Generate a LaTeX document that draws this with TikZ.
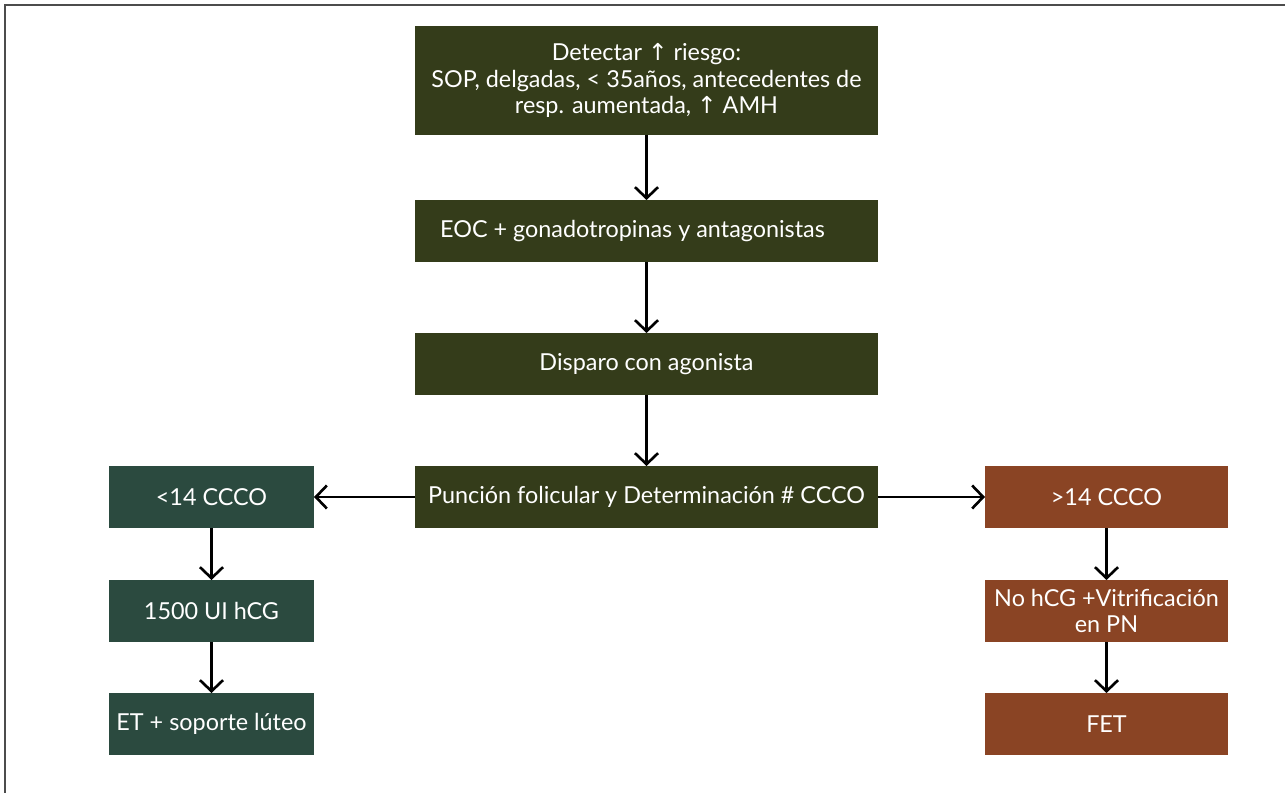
\documentclass[tikz,border=0pt]{standalone}
\usepackage{fontspec}
\setmainfont{Lato}
\newfontfamily\symfont{DejaVu Sans}
\usepackage{tikz}
\usetikzlibrary{positioning}
\usetikzlibrary{arrows.meta}
\definecolor{oliv}{HTML}{343C1A}
\definecolor{tanne}{HTML}{2B4A3F}
\definecolor{rost}{HTML}{8A4424}
\newcommand{\hoch}{{\symfont ↑}}

\begin{document}
\begin{tikzpicture} [line width=1.5pt, >={Straight Barb[length=2.2mm,width=4.6mm]},
        main/.style = {fill=oliv, text=white, align=center, outer sep=0pt, inner sep=2pt,
            minimum width=9.26cm, minimum height=1.24cm, font=\fontsize{13.3}{15.2}\selectfont},
        links/.style = {main, fill=tanne, minimum width=4.1cm},
        rechts/.style = {main, fill=rost, minimum width=4.86cm}]
        \useasboundingbox (0,0) rectangle (25.7,-15.86);
        \draw[line width=0.8pt, gray!60!black] (0.1,-15.86) -- (0.1,-0.1) -- (25.7,-0.1);

        %Boxen
        \node[main, minimum height=2.18cm] (risk) at (12.93,-1.61) {Detectar \hoch{} riesgo:\\SOP, delgadas, < 35años, antecedentes de\\resp. aumentada, \hoch{} AMH};
        \node[main] (eoc) [below = 1.3cm of risk] {\hspace*{-0.56cm}EOC + gonadotropinas y antagonistas};
        \node[main] (disp) [below = 1.42cm of eoc] {Disparo con agonista};
        \node[main] (punc) [below = 1.42cm of disp] {Punción folicular y Determinación \# CCCO};

        \node[links] (l1) [left = 2.02cm of punc] {<14 CCCO};
        \node[links] (l2) [below = 1.04cm of l1] {1500 UI hCG};
        \node[links] (l3) [below = 1.02cm of l2] {ET + soporte lúteo};

        \node[rechts] (r1) [right = 2.14cm of punc] {>14 CCCO};
        \node[rechts] (r2) [below = 1.04cm of r1] {No hCG +Vitrificación\\en PN};
        \node[rechts] (r3) [below = 1.02cm of r2] {FET};

        %Pfeile
        \draw[->] (risk) -- (eoc);
        \draw[->] (eoc) -- (disp);
        \draw[->] (disp) -- (punc);

        \draw[->] (punc) -- (l1);
        \draw[->] (punc) -- (r1);

        \draw[->] (l1) -- (l2);
        \draw[->] (l2) -- (l3);
        \draw[->] (r1) -- (r2);
        \draw[->] (r2) -- (r3);
    \end{tikzpicture}
\end{document}
